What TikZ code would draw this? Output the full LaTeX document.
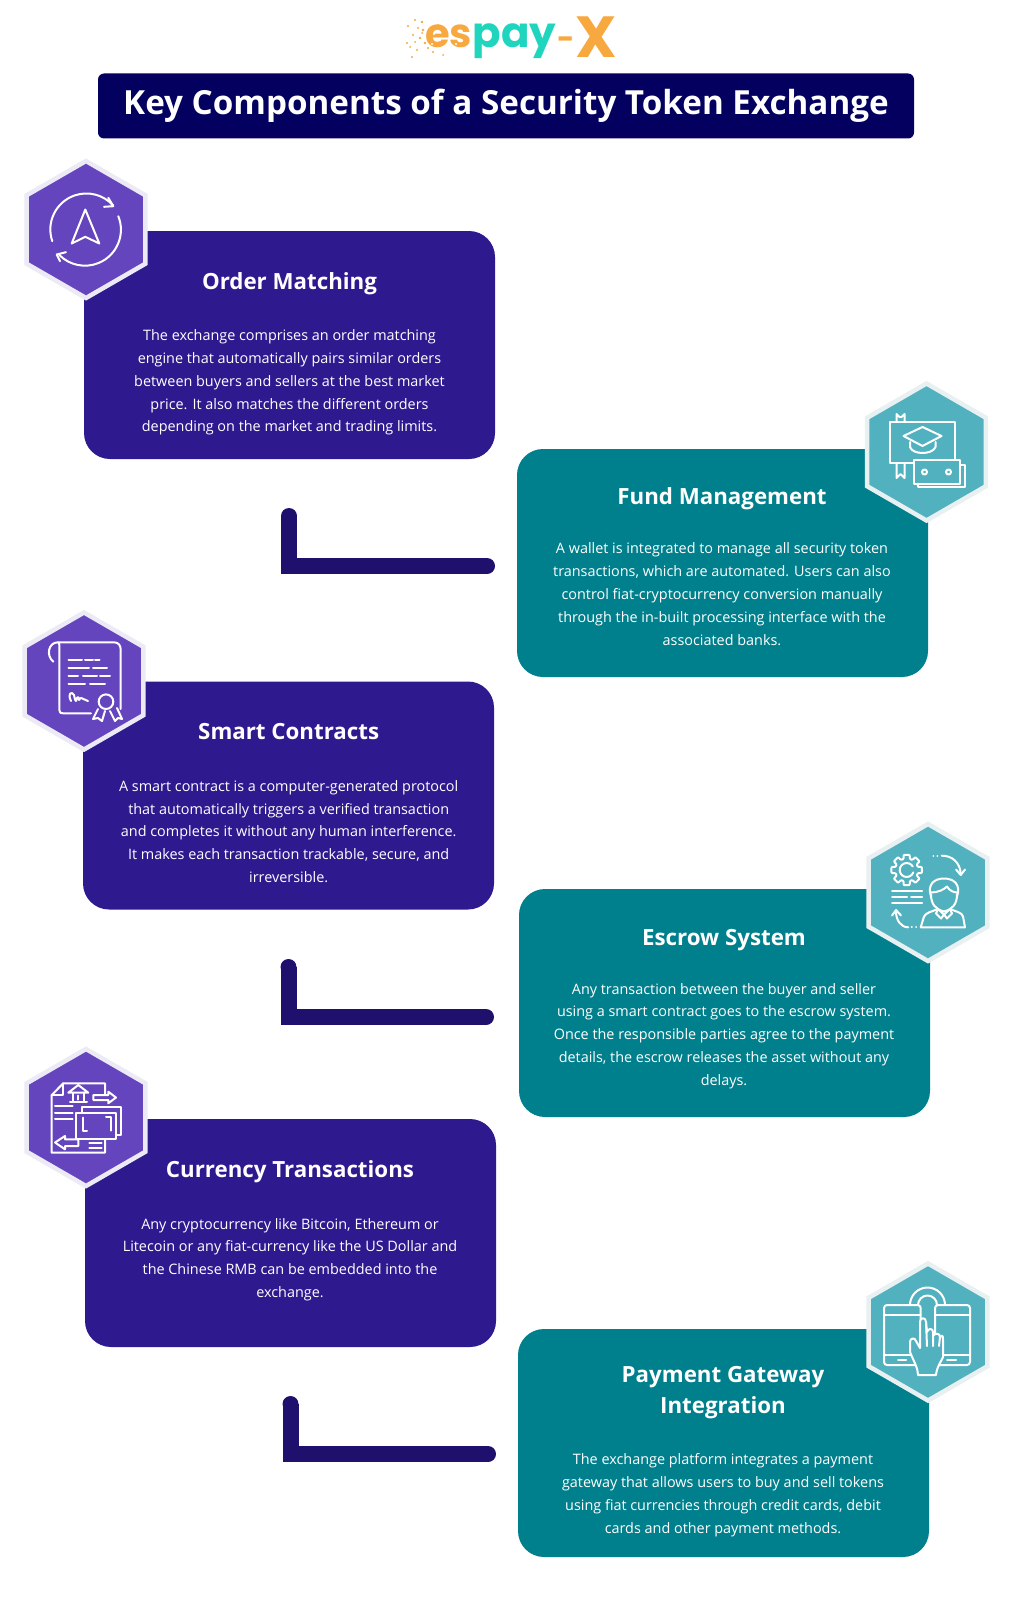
\documentclass[tikz,border=0pt]{standalone}
\usepackage{fontspec}
\setmainfont{Open Sans}
\newfontfamily\logofont{Poppins}
\usetikzlibrary{shapes.geometric,arrows.meta}
\definecolor{navybox}{HTML}{04005F}
\definecolor{purplebox}{HTML}{2E1A8E}
\definecolor{purplehex}{HTML}{6545BE}
\definecolor{tealbox}{HTML}{00808C}
\definecolor{tealhex}{HTML}{52B1BF}
\definecolor{hexedge}{HTML}{ECEAF4}
\definecolor{tealedge}{HTML}{E8F0F1}
\definecolor{elbowcol}{HTML}{20106E}
\definecolor{logoorange}{HTML}{F7A93F}
\definecolor{logoteal}{HTML}{1FD5BE}
\tikzset{
	card/.style={rectangle, rounded corners=26pt, minimum width=411pt, minimum height=228pt, inner sep=0pt},
	purplecard/.style={card, fill=purplebox},
	tealcard/.style={card, fill=tealbox},
	hexbadge/.style={regular polygon, regular polygon sides=6, shape border rotate=30, minimum size=137pt, inner sep=0pt, line width=4.5pt},
	purplebadge/.style={hexbadge, fill=purplehex, draw=hexedge},
	tealbadge/.style={hexbadge, fill=tealhex, draw=tealedge},
	cardhead/.style={text=white, align=center, font=\bfseries\fontsize{22.3}{31}\selectfont},
	cardtext/.style={text=white, align=center, font=\fontsize{14.4}{22.85}\selectfont},
	icon/.style={draw=white, line width=2pt, line cap=round, line join=round},
	elbow/.style={line width=16pt, draw=elbowcol, line join=miter},
	logotext/.style={inner sep=0pt, anchor=base west},
}
\begin{document}
\begin{tikzpicture}[x=1pt,y=-1pt]
	\useasboundingbox (0,0) rectangle (1017,1600);
	\fill[white] (0,0) rectangle (1017,1600);

	% logo
	\node[logotext, font=\logofont\bfseries\fontsize{40}{40}\selectfont, text=logoorange] (logoes) at (425,48) {es};
	\node[logotext, font=\logofont\bfseries\fontsize{42}{42}\selectfont, text=logoteal] (logopay) at (logoes.base east) {pay};
	\node[logotext, font=\logofont\bfseries\fontsize{30}{30}\selectfont, text=logoorange] (logodash) at (557,49.5) {-};
	\node[logotext, font=\logofont\bfseries\fontsize{58}{58}\selectfont, text=logoorange] (logox) at (575,58) {X};
	\foreach \px/\py/\pr in {415/20/1.2,408/26/1.2,422/22/1.4,418/28/1.2,423/30/1.4,432/28/1.2,438/25/1,413/35/1.2,407/43/1.2,410/47/1,420/38/1.4,425/43/1.4,417/50/1.2,412/57/1.2,428/48/1.2,433/52/1.2,443/55/1,422/33/1,415/42/1}
		\fill[logoorange] (\px,\py) circle (\pr);
	\foreach \px/\py/\pr in {434/34/1.2,440/40/1.4,432/44/1.2,445/46/1,450/36/1.2,456/44/1.2}
		\fill[white] (\px,\py) circle (\pr);

	% title
	\node[fill=navybox, rounded corners=6pt, minimum width=816pt, minimum height=65pt, inner sep=0pt, text=white, font=\bfseries\fontsize{33.2}{38}\selectfont] (titlebar) at (506,106) {Key Components of a Security Token Exchange};

	% cards
	\node[purplecard] (orderbox) at (289.5,345) {};
	\node[tealcard] (fundbox) at (722.5,563) {};
	\node[purplecard] (smartbox) at (288.5,795.5) {};
	\node[tealcard] (escrowbox) at (724.5,1003) {};
	\node[purplecard] (currencybox) at (290.5,1233) {};
	\node[tealcard] (paymentbox) at (723.5,1443) {};

	% elbows
	\draw[elbow] (289,516) -- (289,566) -- (487,566);
	\fill[elbowcol] (289,516) circle (8) (487,566) circle (8);
	\draw[elbow] (288.5,967) -- (288.5,1017) -- (486,1017);
	\fill[elbowcol] (288.5,967) circle (8) (486,1017) circle (8);
	\draw[elbow] (290.5,1404) -- (290.5,1454) -- (488,1454);
	\fill[elbowcol] (290.5,1404) circle (8) (488,1454) circle (8);

	% hexagons
	\node[purplebadge] (orderhex) at (86,229.5) {};
	\node[tealbadge] (fundhex) at (926.5,452) {};
	\node[purplebadge] (smarthex) at (84,681) {};
	\node[tealbadge] (escrowhex) at (928,892.5) {};
	\node[purplebadge] (currencyhex) at (86,1117.5) {};
	\node[tealbadge] (paymenthex) at (928,1332) {};

	% headings
	\node[cardhead] (orderhead) at (289.5,283.5) {Order Matching};
	\node[cardhead] (fundhead) at (722,499) {Fund Management};
	\node[cardhead] (smarthead) at (288.7,732) {Smart Contracts};
	\node[cardhead] (escrowhead) at (724,940) {Escrow System};
	\node[cardhead] (currencyhead) at (290,1172) {Currency Transactions};
	\node[cardhead] (paymenthead) at (723,1392.5) {Payment Gateway\\Integration};

	% body text
	\node[cardtext] (ordertext) at (289.5,382.5) {The exchange comprises an order matching\\engine that automatically pairs similar orders\\between buyers and sellers at the best market\\price. It also matches the different orders\\depending on the market and trading limits.};
	\node[cardtext] (fundtext) at (722,594.3) {A wallet is integrated to manage all security token\\transactions, which are automated. Users can also\\control fiat-cryptocurrency conversion manually\\through the in-built processing interface with the\\associated banks.};
	\node[cardtext] (smarttext) at (288.7,831.5) {A smart contract is a computer-generated protocol\\that automatically triggers a verified transaction\\and completes it without any human interference.\\It makes each transaction trackable, secure, and\\irreversible.};
	\node[cardtext] (escrowtext) at (724,1036) {Any transaction between the buyer and seller\\using a smart contract goes to the escrow system.\\Once the responsible parties agree to the payment\\details, the escrow releases the asset without any\\delays.};
	\node[cardtext] (currencytext) at (290,1259.6) {Any cryptocurrency like Bitcoin, Ethereum or\\Litecoin or any fiat-currency like the US Dollar and\\the Chinese RMB can be embedded into the\\exchange.};
	\node[cardtext] (paymenttext) at (723,1495) {The exchange platform integrates a payment\\gateway that allows users to buy and sell tokens\\using fiat currencies through credit cards, debit\\cards and other payment methods.};

	% order icon
	\begin{scope}[shift={(orderhex.center)}]
		\draw[icon] (-33.7,11.7) arc[start angle=161, end angle=318, radius=36];
		\draw[icon] (32.3,-13.3) arc[start angle=-22, end angle=135, radius=36];
		\draw[icon] (22.3,-31.7) -- (27.3,-23.3) -- (18,-22.7);
		\draw[icon] (-20,22.7) -- (-29.3,25) -- (-26,31.7);
		\draw[icon] (-.7,-20) -- (-14.3,14) -- (-.7,7.3) -- (13.3,14) -- cycle;
	\end{scope}

	% fund icon
	\begin{scope}[shift={(fundhex.center)}]
		\draw[icon] (-14,11.3) -- (-37,11.3) -- (-37,-30) -- (28,-30) -- (28,7);
		\draw[icon] (-30,-30) -- (-30,-38) -- (-27,-35) -- (-25,-35) -- (-22,-38) -- (-22,-30);
		\draw[icon] (-30,11.3) -- (-30,26) -- (-26,22) -- (-22,26) -- (-22,11.3);
		\draw[icon] (-23,-16) -- (-4,-25) -- (15,-16) -- (-4,-6) -- cycle;
		\draw[icon] (-16.5,-10) -- (-16.5,-5) .. controls (-14,3) and (6,3) .. (9,-5) -- (9,-10);
		\draw[icon] (-13,8) rectangle (33.5,31.5);
		\draw[icon] (-9,31.5) -- (-9,35) -- (38.5,35) -- (38.5,13) -- (33.5,13);
		\draw[icon] (-2,20) circle (2.5) (22,20) circle (2.5);
	\end{scope}

	% smart contract icon
	\begin{scope}[shift={(smarthex.center)}]
		\draw[icon] (-30.7,-19.3) .. controls (-38,-25) and (-36,-38.7) .. (-26,-38.7) -- (30,-38.7) .. controls (35,-38.7) and (36.7,-35) .. (36.7,-31) -- (36.7,28);
		\draw[icon] (-26,-38.7) .. controls (-24,-38) and (-24.7,-34) .. (-24.7,-31) -- (-24.7,29) .. controls (-24.7,32) and (-23,32.3) .. (-21,32.3) -- (7,32.3);
		\draw[icon] (-15.5,-21) -- (-2,-21) (1,-21) -- (9,-21) (11,-21) -- (15.5,-21);
		\draw[icon] (-15.5,-12.7) -- (5,-12.7) (9,-12.7) -- (23,-12.7);
		\draw[icon] (-15.5,-5) -- (-6,-5) (-1,-5) -- (13,-5) (16,-5) -- (26,-5);
		\draw[icon] (-15.5,3) -- (1,3) (6,3) -- (21,3);
		\draw[icon] (-13,20) .. controls (-17,12) and (-12,10) .. (-10,14) .. controls (-9,18) and (-9,20) .. (-8,20) .. controls (-7,15) and (-5,15) .. (-5,19) .. controls (-3,15) and (-2,18) .. (4,20);
		\draw[icon] (22,20.7) circle (7.3);
		\draw[icon] (14,28) -- (9,38) -- (14,37) -- (18,40) -- (21,30);
		\draw[icon] (26,30) -- (31,40) -- (34,37) -- (38,38) -- (33,27);
	\end{scope}

	% escrow icon
	\begin{scope}[shift={(escrowhex.center)}]
		\draw[icon, rounded corners=.8pt, shift={(-21.3,-22.5)}] (11:15.5)
			\foreach \a in {0,45,...,315} {
				-- (\a+11:15.5) -- (\a+16:11.5) -- (\a+29:11.5) -- (\a+34:15.5)
			} -- cycle;
		\draw[icon] (-21.3,-22.5) ++(20:7) arc[start angle=20, end angle=330, radius=7];
		\draw[icon] (5.3,-36.8) -- (5.4,-36.8) (9.3,-36.8) -- (9.4,-36.8);
		\draw[icon] (13.7,-36.8) .. controls (24,-37) and (32,-30) .. (32.7,-19);
		\draw[icon] (28,-23) -- (32.7,-17.5) -- (37,-23);
		\draw[icon] (-36,-1.5) -- (-6,-1.5) (-36,4.6) -- (-21,4.6) (-17,4.6) -- (-6,4.6) (-36,10.2) -- (-6,10.2);
		\draw[icon] (-7.3,34.8) -- (-4,24) .. controls (-2,20) and (4,19) .. (10,16.5) -- (16,22) -- (22,16.5) .. controls (28,19) and (34,20) .. (35,24) -- (37,34.8) -- cycle;
		\draw[icon] (10,16.5) -- (8,21) -- (13,26) -- (16,22) -- (19,26) -- (24,21) -- (22,16.5);
		\draw[icon] (3,2) .. controls (3,12) and (8,17) .. (16,19) .. controls (24,17) and (29,12) .. (29,2);
		\draw[icon] (3,4) .. controls (-1,-8) and (6,-14) .. (16,-14) .. controls (26,-14) and (33,-8) .. (29,4);
		\draw[icon] (3,0) .. controls (10,0) and (16,-3) .. (19,-6) .. controls (21,-2) and (26,0) .. (29,0);
		\draw[icon] (-32,19) .. controls (-32,28) and (-27,34.8) .. (-19.7,34.8);
		\draw[icon] (-36,23) -- (-32,17.5) -- (-27,23);
		\draw[icon] (-16.3,34.8) -- (-16.2,34.8) (-12,34.8) -- (-11.9,34.8);
	\end{scope}

	% currency icon
	\begin{scope}[shift={(currencyhex.center)}]
		\draw[icon] (19,-24) -- (19,-34.2) -- (-22.7,-34.2) -- (-34.3,-22.5) -- (-34.3,35.2) -- (19,35.2) -- (19,21.8);
		\draw[icon] (-22.7,-34.2) -- (-22.7,-22.5) -- (-34.3,-22.5);
		\draw[icon] (-17.7,-24.8) -- (-7.7,-32.5) -- (2.3,-24.8) -- cycle;
		\draw[icon] (-16,-15.8) -- (1,-15.8) (-13,-24.8) -- (-13,-15.8) (-2,-24.8) -- (-2,-15.8) (-7.7,-22) -- (-7.7,-18);
		\draw[icon] (7.3,-22.5) -- (22.3,-22.5) -- (22.3,-25.8) -- (30,-20) -- (22.3,-14.2) -- (22.3,-17.5) -- (7.3,-17.5) -- cycle;
		\draw[icon] (-31,-11.5) -- (-13.3,-11.5) (-31,-4.8) -- (-13.3,-4.8) (-31,1.8) -- (-13.3,1.8);
		\draw[icon] (-10,-4.8) rectangle (30,21.8);
		\draw[icon] (-4.3,-4.8) -- (-4.3,-10.2) -- (34.7,-10.2) -- (34.7,17.5) -- (30,17.5);
		\draw[icon] (-3.3,0) -- (-3.3,13) -- (1,13);
		\draw[icon] (20,-1) -- (25,-1) -- (25,13);
		\draw[icon] (-31,25) -- (-21,18.5) -- (-21,21.8) -- (-7.7,21.8) -- (-7.7,28.5) -- (-21,28.5) -- (-21,31.8) -- cycle;
		\draw[icon] (3.3,25.8) -- (15.7,25.8) (3.3,30.8) -- (15.7,30.8);
	\end{scope}

	% payment icon
	\begin{scope}[shift={(paymenthex.center)}]
		\draw[icon, rounded corners=3pt] (-44,-27) rectangle (-7.3,33);
		\draw[icon, rounded corners=3pt] (7,-27) rectangle (42,33);
		\draw[icon] (-44,-17) -- (-7.3,-17) (-44,23) -- (-7.3,23) (7,-17) -- (42,-17) (7,23) -- (42,23);
		\draw[icon] (-30,27.5) -- (-22,27.5) (19,27.5) -- (28,27.5);
		\draw[icon] (-18,-27) arc[start angle=180, end angle=360, radius=17.5];
		\draw[icon] (-10,-27) arc[start angle=180, end angle=360, radius=9.5];
		\draw[icon, fill=tealhex] (-10,43) .. controls (-10,36) and (-14,30) .. (-18,20) -- (-18,10) .. controls (-18,6) and (-13,5) .. (-12,9) -- (-8,16) -- (-8,-10) .. controls (-8,-15) and (-2,-15) .. (-2,-10) -- (-1,0) .. controls (0,-4) and (5,-4) .. (5,0) -- (6,3) .. controls (7,1) and (12,1) .. (12,5) .. controls (15,2) and (15,5) .. (15,8) -- (15,25) .. controls (13,30) and (9,34) .. (8,43) -- cycle;
		\draw[icon] (-2,-10) -- (-1,14) (5,0) -- (5,14) (12,5) -- (11,14);
	\end{scope}
\end{tikzpicture}
\end{document}
